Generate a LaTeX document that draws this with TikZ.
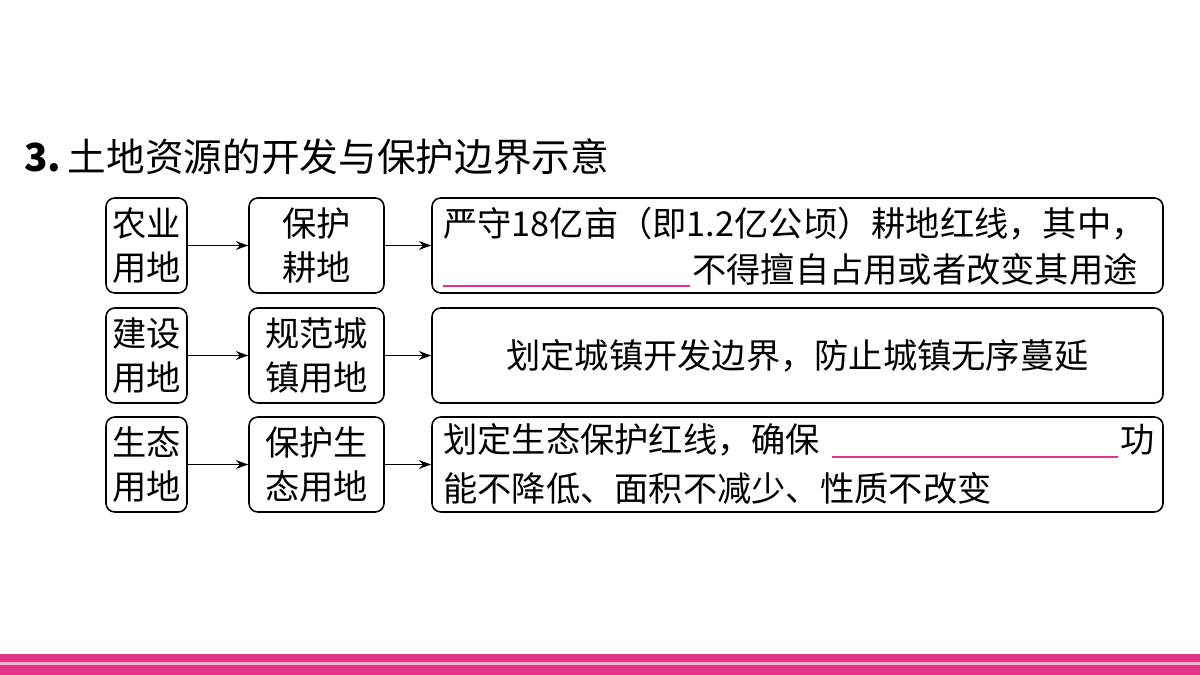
\documentclass[tikz,border=0pt]{standalone}
\usepackage{fontspec}
\newfontfamily\cjk{Noto Sans CJK SC}
\setmainfont{Liberation Serif}
\usetikzlibrary{arrows.meta}
\definecolor{pk}{HTML}{E5338A}
\definecolor{lpk}{HTML}{F7B6D6}
\begin{document}
\begin{tikzpicture}[x=0.02cm,y=-0.02cm,
  bx/.style={draw,line width=0.9pt,rounded corners=5pt},
  tx/.style={font=\cjk\fontsize{19.5}{25}\selectfont,inner sep=0pt,align=center},
  ar/.style={-{Stealth[length=7pt,width=5pt]},line width=0.7pt}]
\useasboundingbox (0,0) rectangle (1200,675);
\fill[pk] (0,654) rectangle (1200,662);
\fill[lpk] (0,662) rectangle (1200,665);
\fill[pk] (0,665) rectangle (1200,675);
\node[anchor=west,inner sep=0pt] (title) at (24,157) {\fontsize{22}{26}\selectfont\cjk \textbf{3.}\,土地资源的开发与保护边界示意};
\foreach \r/\t/\a/\b in {1/198/农业\\用地/保护\\耕地,2/308/建设\\用地/规范城\\镇用地,3/417/生态\\用地/保护生\\态用地}{
  \node[bx,minimum width=81*0.02cm,minimum height=95*0.02cm] (a\r) at (146.5,\t+47.5) {};
  \node[tx] at (a\r) {\a};
  \node[bx,minimum width=135*0.02cm,minimum height=95*0.02cm] (b\r) at (316.5,\t+47.5) {};
  \node[tx] at (b\r) {\b};
  \node[bx,minimum width=731*0.02cm,minimum height=95*0.02cm] (c\r) at (797.5,\t+47.5) {};
  \draw[ar] (a\r) -- (b\r);
  \draw[ar] (b\r) -- (c\r);
}
\node[tx,anchor=west] (t1) at (443,224) {严守18亿亩（即1.2亿公顷）耕地红线，其中，};
\coordinate (u1a) at (443,286); \coordinate (u1b) at (690,286);
\draw[pk,line width=1pt] (u1a) -- (u1b);
\node[tx,anchor=west] (t2) at (692,269) {不得擅自占用或者改变其用途};
\node[tx] (t3) at (c2) {划定城镇开发边界，防止城镇无序蔓延};
\node[tx,anchor=west] (t4) at (443,440) {划定生态保护红线，确保};
\coordinate (u2a) at (832,457); \coordinate (u2b) at (1118,457);
\draw[pk,line width=1pt] (u2a) -- (u2b);
\node[tx,anchor=west] (t5) at (1120,440) {功};
\node[tx,anchor=west] (t6) at (443,488) {能不降低、面积不减少、性质不改变};
\end{tikzpicture}
\end{document}
